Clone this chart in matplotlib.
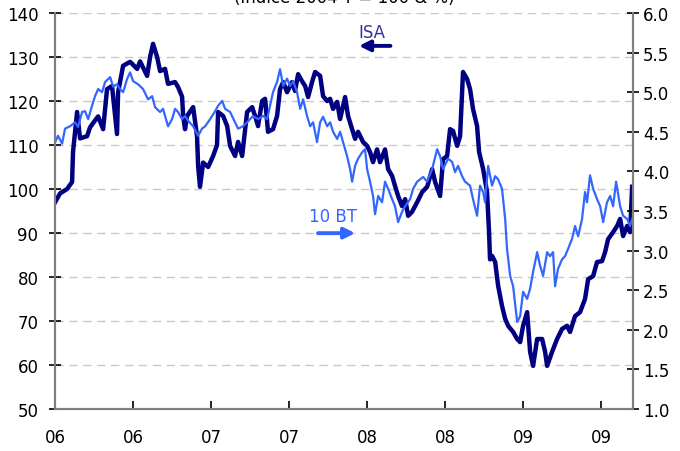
import matplotlib
matplotlib.use("Agg")
import matplotlib.pyplot as plt

# ISA index (left axis), time in decimal years
isa_t = [2006.000, 2006.032, 2006.077, 2006.109, 2006.115, 2006.141, 2006.160, 2006.205, 2006.224, 2006.244,
         2006.276, 2006.308, 2006.333, 2006.365, 2006.385, 2006.397, 2006.404, 2006.436, 2006.481, 2006.526,
         2006.545, 2006.590, 2006.609, 2006.628, 2006.654, 2006.673, 2006.705, 2006.724, 2006.769, 2006.788,
         2006.814, 2006.821, 2006.833, 2006.846, 2006.885, 2006.910, 2006.917, 2006.929, 2006.949, 2006.981,
         2007.013, 2007.038, 2007.045, 2007.077, 2007.103, 2007.122, 2007.154, 2007.173, 2007.199, 2007.231,
         2007.263, 2007.282, 2007.301, 2007.327, 2007.346, 2007.365, 2007.397, 2007.423, 2007.442, 2007.462,
         2007.487, 2007.519, 2007.538, 2007.558, 2007.583, 2007.603, 2007.622, 2007.647, 2007.667, 2007.699,
         2007.718, 2007.744, 2007.763, 2007.782, 2007.808, 2007.827, 2007.859, 2007.878, 2007.904, 2007.923,
         2007.942, 2007.974, 2008.000, 2008.019, 2008.038, 2008.064, 2008.083, 2008.115, 2008.135, 2008.160,
         2008.179, 2008.199, 2008.224, 2008.244, 2008.263, 2008.288, 2008.321, 2008.353, 2008.385, 2008.417,
         2008.436, 2008.468, 2008.487, 2008.513, 2008.532, 2008.551, 2008.577, 2008.596, 2008.615, 2008.641,
         2008.660, 2008.679, 2008.705, 2008.718, 2008.744, 2008.769, 2008.782, 2008.788, 2008.801, 2008.821,
         2008.840, 2008.865, 2008.885, 2008.904, 2008.936, 2008.962, 2008.981, 2009.000, 2009.026, 2009.045,
         2009.064, 2009.090, 2009.122, 2009.141, 2009.154, 2009.186, 2009.218, 2009.250, 2009.282, 2009.301,
         2009.333, 2009.365, 2009.397, 2009.417, 2009.449, 2009.474, 2009.506, 2009.526, 2009.545, 2009.577,
         2009.603, 2009.622, 2009.641, 2009.667, 2009.686, 2009.699]
isa_v = [97.0, 99.0, 100.0, 101.6, 108.4, 117.5, 111.5, 112.0, 114.0, 115.0,
         116.5, 113.6, 122.7, 123.4, 116.6, 112.5, 122.0, 128.0, 128.9, 127.3,
         129.0, 125.7, 130.0, 133.0, 130.0, 126.8, 127.3, 123.9, 124.3, 123.2,
         121.0, 116.6, 113.6, 116.6, 118.6, 112.0, 105.2, 100.5, 106.0, 105.0,
         107.5, 110.0, 117.5, 116.6, 114.3, 109.8, 107.5, 110.7, 107.5, 117.5,
         118.6, 116.6, 114.3, 120.0, 120.5, 113.0, 113.6, 116.6, 122.7, 124.3,
         122.0, 124.3, 122.3, 126.1, 124.5, 123.4, 120.9, 124.3, 126.6, 125.7,
         121.1, 120.0, 120.5, 118.2, 119.8, 115.9, 120.9, 116.6, 113.6, 111.4,
         113.0, 110.7, 109.8, 108.4, 106.1, 109.0, 106.1, 109.0, 104.5, 103.0,
         100.7, 98.4, 96.1, 97.7, 93.9, 94.8, 97.0, 99.3, 100.5, 104.5,
         101.6, 98.4, 106.8, 107.5, 113.6, 113.2, 109.8, 112.0, 126.6, 125.0,
         122.7, 118.2, 114.3, 108.4, 104.5, 99.3, 90.0, 84.0, 84.8, 83.4,
         78.0, 73.4, 70.5, 68.9, 67.5, 65.9, 65.2, 68.9, 72.0, 63.0,
         59.8, 65.9, 65.9, 63.0, 59.8, 63.0, 65.9, 68.2, 68.9, 67.5,
         71.1, 72.0, 75.0, 79.5, 80.2, 83.4, 83.6, 85.7, 88.6, 90.2,
         91.6, 93.2, 89.3, 91.6, 90.2, 100.5]

# 10-year bond yield (right axis, %)
bt_t = [2006.000, 2006.019, 2006.045, 2006.064, 2006.096, 2006.128, 2006.147, 2006.173, 2006.192, 2006.212,
        2006.237, 2006.256, 2006.276, 2006.301, 2006.321, 2006.353, 2006.372, 2006.397, 2006.417, 2006.436,
        2006.462, 2006.481, 2006.500, 2006.532, 2006.564, 2006.596, 2006.622, 2006.641, 2006.673, 2006.692,
        2006.724, 2006.750, 2006.769, 2006.788, 2006.814, 2006.833, 2006.853, 2006.885, 2006.917, 2006.942,
        2006.962, 2006.994, 2007.026, 2007.045, 2007.071, 2007.090, 2007.122, 2007.154, 2007.173, 2007.205,
        2007.231, 2007.269, 2007.301, 2007.333, 2007.359, 2007.378, 2007.397, 2007.423, 2007.442, 2007.462,
        2007.487, 2007.506, 2007.526, 2007.551, 2007.571, 2007.590, 2007.615, 2007.635, 2007.654, 2007.679,
        2007.699, 2007.718, 2007.744, 2007.763, 2007.782, 2007.808, 2007.827, 2007.846, 2007.872, 2007.891,
        2007.904, 2007.923, 2007.942, 2007.968, 2007.987, 2008.000, 2008.019, 2008.038, 2008.051, 2008.071,
        2008.096, 2008.115, 2008.135, 2008.160, 2008.179, 2008.199, 2008.224, 2008.244, 2008.276, 2008.295,
        2008.321, 2008.340, 2008.359, 2008.385, 2008.417, 2008.449, 2008.468, 2008.487, 2008.519, 2008.545,
        2008.564, 2008.583, 2008.609, 2008.628, 2008.660, 2008.679, 2008.705, 2008.724, 2008.744, 2008.756,
        2008.776, 2008.801, 2008.821, 2008.840, 2008.865, 2008.885, 2008.897, 2008.917, 2008.936, 2008.962,
        2008.981, 2009.000, 2009.026, 2009.045, 2009.064, 2009.090, 2009.109, 2009.128, 2009.154, 2009.173,
        2009.192, 2009.205, 2009.224, 2009.250, 2009.269, 2009.288, 2009.314, 2009.333, 2009.353, 2009.378,
        2009.397, 2009.410, 2009.429, 2009.449, 2009.474, 2009.494, 2009.513, 2009.538, 2009.558, 2009.577,
        2009.596, 2009.622, 2009.641, 2009.667, 2009.686, 2009.699]
bt_v = [4.37, 4.45, 4.35, 4.54, 4.57, 4.62, 4.56, 4.75, 4.76, 4.66,
        4.83, 4.95, 5.04, 5.00, 5.13, 5.19, 5.07, 5.10, 5.04, 5.00,
        5.17, 5.25, 5.14, 5.10, 5.04, 4.91, 4.95, 4.81, 4.75, 4.79,
        4.57, 4.66, 4.79, 4.75, 4.66, 4.70, 4.64, 4.57, 4.45, 4.54,
        4.57, 4.66, 4.76, 4.83, 4.89, 4.79, 4.75, 4.62, 4.54, 4.57,
        4.62, 4.70, 4.66, 4.70, 4.66, 4.83, 5.00, 5.13, 5.29, 5.08,
        5.17, 5.08, 5.14, 5.00, 4.79, 4.91, 4.70, 4.57, 4.62, 4.37,
        4.62, 4.69, 4.57, 4.62, 4.50, 4.41, 4.50, 4.37, 4.19, 4.03,
        3.87, 4.07, 4.16, 4.24, 4.28, 4.03, 3.87, 3.69, 3.46, 3.69,
        3.61, 3.87, 3.78, 3.65, 3.56, 3.36, 3.49, 3.56, 3.65, 3.78,
        3.87, 3.90, 3.93, 3.87, 4.03, 4.28, 4.19, 4.03, 4.16, 4.12,
        3.99, 4.07, 3.94, 3.87, 3.82, 3.65, 3.44, 3.82, 3.74, 3.61,
        4.07, 3.82, 3.94, 3.90, 3.78, 3.40, 3.02, 2.68, 2.55, 2.10,
        2.17, 2.48, 2.39, 2.52, 2.73, 2.98, 2.81, 2.68, 2.98, 2.93,
        2.98, 2.55, 2.77, 2.89, 2.93, 3.02, 3.15, 3.31, 3.18, 3.40,
        3.74, 3.61, 3.95, 3.78, 3.65, 3.56, 3.36, 3.61, 3.69, 3.56,
        3.87, 3.56, 3.44, 3.40, 3.31, 3.40]

x_ticks = [2006.0, 2006.5, 2007.0, 2007.5, 2008.0, 2008.5, 2009.0, 2009.5]
x_labels = ["06", "06", "07", "07", "08", "08", "09", "09"]
left_ticks = [50, 60, 70, 80, 90, 100, 110, 120, 130, 140]
right_ticks = [1.0, 1.5, 2.0, 2.5, 3.0, 3.5, 4.0, 4.5, 5.0, 5.5, 6.0]

navy = "#000080"
blue = "#3366ff"
spine_col = "#7f7f7f"

plt.rcParams["font.family"] = ["DejaVu Sans"]
fig = plt.figure(figsize=(6.8, 4.52), dpi=100)
ax = fig.add_axes([0.081, 0.093, 0.850, 0.876])
ax2 = ax.twinx()

ax.plot(isa_t, isa_v, color=navy, lw=3.2, solid_joinstyle="round")
ax2.plot(bt_t, bt_v, color=blue, lw=1.6)

ax.set_xlim(2006.0, 2009.705)
ax.set_ylim(50, 140)
ax2.set_ylim(1.0, 6.0)

ax.set_yticks(left_ticks)
ax.set_yticklabels([str(v) for v in left_ticks])
ax2.set_yticks(right_ticks)
ax2.set_yticklabels(["%.1f" % v for v in right_ticks])
ax.set_xticks(x_ticks)
ax.set_xticklabels(x_labels)

for v in left_ticks[1:]:
    ax.axhline(v, color="#c8c8c8", lw=1, ls=(0, (6, 4)), zorder=0)

for a in (ax, ax2):
    a.spines["top"].set_visible(False)
    for s in ("left", "right", "bottom"):
        a.spines[s].set_color(spine_col)
        a.spines[s].set_linewidth(1.5)
ax.tick_params(axis="y", direction="inout", length=8, width=1.2, labelsize=12, pad=8)
ax2.tick_params(axis="y", direction="inout", length=8, width=1.2, labelsize=12, pad=3)
ax.tick_params(axis="x", direction="in", length=6, width=1.2, labelsize=12, pad=14)

ax2.annotate("", xy=(0.521, 0.917), xytext=(0.585, 0.917), xycoords="axes fraction",
             arrowprops=dict(arrowstyle="-|>", color=navy, lw=2.8, mutation_scale=16))
ax2.text(0.548, 0.952, "ISA", transform=ax2.transAxes, ha="center", va="center",
         color="#333399", fontsize=12)
ax2.annotate("", xy=(0.524, 0.444), xytext=(0.450, 0.444), xycoords="axes fraction",
             arrowprops=dict(arrowstyle="-|>", color=blue, lw=2.8, mutation_scale=16))
ax2.text(0.481, 0.487, "10 BT", transform=ax2.transAxes, ha="center", va="center",
         color=blue, fontsize=12)

fig.text(0.507, 1.004, "(Indice 2004 T = 100 & %)", ha="center", va="center", fontsize=12)

fig.savefig("out.png", dpi=100)
